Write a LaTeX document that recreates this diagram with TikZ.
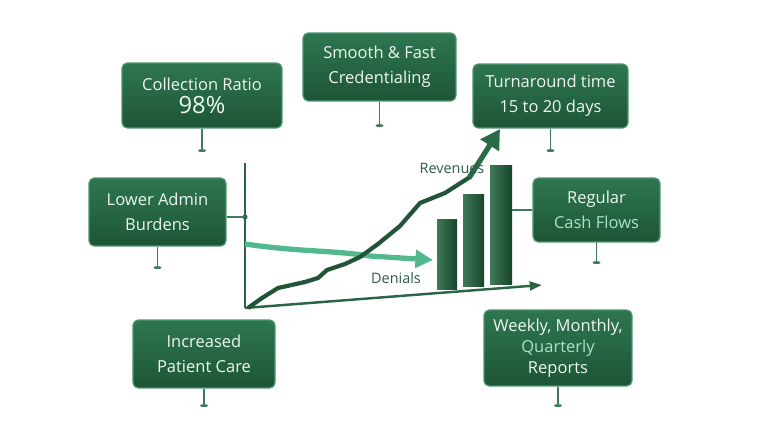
\documentclass[tikz,border=0pt]{standalone}
\usepackage{fontspec}
\setmainfont{Open Sans}
\usetikzlibrary{arrows.meta}
\definecolor{boxtop}{HTML}{2E7650}
\definecolor{boxbot}{HTML}{1D5536}
\definecolor{edgegreen}{HTML}{4C9470}
\definecolor{cardtext}{HTML}{EEF6F0}
\definecolor{minttext}{HTML}{A6E3CC}
\definecolor{stemgreen}{HTML}{3F7A5B}
\definecolor{axisgreen}{HTML}{2C6446}
\definecolor{revgreen}{HTML}{2A6A45}
\definecolor{dengreen}{HTML}{52B88D}
\definecolor{labelgreen}{HTML}{285C42}
\begin{document}
\begin{tikzpicture}[x=0.02cm, y=-0.02cm,
  card/.style={draw=edgegreen, line width=0.7pt, rounded corners=3pt,
    top color=boxtop, bottom color=boxbot, text=cardtext, align=center,
    font=\fontsize{9.4}{14}\selectfont},
  stem/.style={draw=stemgreen, line width=0.6pt},
  axis/.style={draw=axisgreen, line width=1pt},
  barbox/.style={draw=none, left color=revgreen!90!white, right color=boxbot!80!black,
    anchor=south, inner sep=0pt},
  chartlabel/.style={text=labelgreen, font=\fontsize{8.2}{10}\selectfont}]
  \useasboundingbox (0,0) rectangle (768,432);
  % cards
  \node [card, minimum width=3.2cm, minimum height=1.3cm] (ratio) at (202,95.5)
    {Collection Ratio\\[-1pt]{\fontsize{13.5}{15}\selectfont 98\%}};
  \node [card, minimum width=3.06cm, minimum height=1.36cm] (cred) at (379.5,67)
    {Smooth \& Fast\\Credentialing};
  \node [card, minimum width=3.1cm, minimum height=1.28cm] (turn) at (550.5,96)
    {Turnaround time\\15 to 20 days};
  \node [card, minimum width=2.74cm, minimum height=1.36cm] (burdens) at (157.5,212)
    {Lower Admin\\Burdens};
  \node [card, minimum width=2.54cm, minimum height=1.28cm] (cash) at (596.5,210)
    {Regular\\\textcolor{minttext}{Cash Flows}};
  \node [card, minimum width=2.84cm, minimum height=1.36cm] (care) at (204,354)
    {Increased\\Patient Care};
  \node [card, minimum width=2.96cm, minimum height=1.52cm] (reports) at (558,348)
    {Weekly, Monthly,\\[-2pt]\textcolor{minttext}{Quarterly}\\[-2pt]Reports};
  % stems
  \foreach \n/\len in {ratio/22, cred/24, turn/22, burdens/21, cash/20, care/17, reports/19} {
    \draw [stem] (\n.south) -- ++(0,\len) coordinate (\n-f);
    \fill [stemgreen] (\n-f) ellipse [x radius=4, y radius=1.5];
  }
  % chart
  \coordinate (O) at (245,308);
  \coordinate (ytop) at (245,163);
  \coordinate (xend) at (542,285);
  \coordinate (ydot) at (245,217);
  \draw [axis] (O) -- (ytop);
  \draw [axis, line width=1.4pt, -{Triangle[length=7pt,width=5pt]}] (O) -- (xend);
  \fill [axisgreen] (ydot) circle (2.5);
  \draw [stem] (burdens.east |- ydot) -- (ydot);
  \node [barbox, minimum width=0.4cm, minimum height=1.4cm] (bar1) at (447,290) {};
  \node [barbox, minimum width=0.42cm, minimum height=1.84cm] (bar2) at (473.5,287) {};
  \node [barbox, minimum width=0.44cm, minimum height=2.38cm] (bar3) at (501,285) {};
  \draw [stem] (cash.west) -- (cash.west -| bar3.east);
  % denials
  \draw [dengreen, line width=3pt, -{Triangle[length=10pt,width=10pt]}]
    (245,244) .. controls (300,252) and (330,250) .. (370,256) -- (433,260);
  \node [chartlabel] (den) at (396,278) {Denials};
  % revenues
  \draw [revgreen!80!black, line width=2.4pt, line join=round]
    (248,308) -- (262,298) -- (278,288) -- (305,282) -- (318,278) -- (327,270)
    -- (345,264) -- (360,257) -- (378,244) -- (400,226) -- (420,203) -- (445,193)
    -- (470,177);
  \draw [revgreen, line width=3pt, -{Triangle[length=11pt,width=12pt]}]
    (469,178) -- (500,129);
  \node [chartlabel] (rev) at (452,168) {Revenues};
\end{tikzpicture}
\end{document}
